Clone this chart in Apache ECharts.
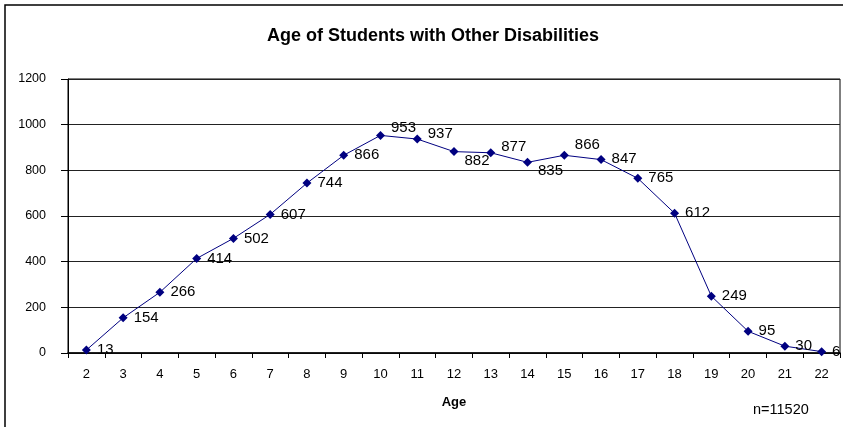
<!DOCTYPE html>
<html>
<head>
<meta charset="utf-8">
<script src="https://cdn.jsdelivr.net/npm/echarts@6/dist/echarts.min.js"></script>
<style>
  html, body { margin: 0; padding: 0; background: #fff; }
  #chart { width: 843px; height: 427px; }
</style>
</head>
<body>
<div id="chart"></div>
<script>
const ages = ['2', '3', '4', '5', '6', '7', '8', '9', '10', '11', '12', '13', '14', '15', '16', '17', '18', '19', '20', '21', '22'];
const students = [13, 154, 266, 414, 502, 607, 744, 866, 953, 937, 882, 877, 835, 866, 847, 765, 612, 249, 95, 30, 6];
const yTicks = [0, 200, 400, 600, 800, 1000, 1200];

// nudge a few labels up/down like the original so they don't sit on the line
const labelShift = {8: -8, 9: -5, 10: 9, 11: -6, 12: 9, 13: -10, 14: -1};

const font = 'Liberation Sans, Arial, sans-serif';

const chart = echarts.init(document.getElementById('chart'));

chart.setOption({
  animation: false,
  title: {
    text: 'Age of Students with Other Disabilities',
    left: 262,
    top: 22,
    textStyle: {fontFamily: font, fontSize: 18, fontWeight: 'bold', color: '#000'}
  },
  grid: {
    left: 68,
    right: 3,
    top: 79,
    bottom: 74,
    show: true,
    borderColor: '#000',
    borderWidth: 1
  },
  xAxis: {
    type: 'category',
    data: ages,
    name: 'Age',
    nameLocation: 'middle',
    nameGap: 43,
    nameTextStyle: {fontFamily: font, fontSize: 13, fontWeight: 'bold', color: '#000'},
    axisLine: {lineStyle: {color: '#000', width: 1.5}},
    axisTick: {show: true, length: 5, lineStyle: {color: '#000'}},
    axisLabel: {fontFamily: font, fontSize: 13, color: '#000', margin: 15}
  },
  yAxis: {
    type: 'value',
    min: yTicks[0],
    max: yTicks[yTicks.length - 1],
    interval: 200,
    axisLine: {show: true, lineStyle: {color: '#000'}},
    axisTick: {show: true, length: 7, lineStyle: {color: '#000'}},
    axisLabel: {fontFamily: font, fontSize: 12.5, color: '#000', margin: 22, formatter: v => String(v)},
    splitLine: {lineStyle: {color: '#222', width: 1}}
  },
  series: [{
    type: 'line',
    data: students.map((v, i) => ({
      value: v,
      label: labelShift[i] !== undefined ? {offset: [0, labelShift[i]]} : undefined
    })),
    symbol: 'diamond',
    symbolSize: 9,
    lineStyle: {color: '#000080', width: 1},
    itemStyle: {color: '#000080'},
    label: {
      show: true,
      position: 'right',
      distance: 6,
      fontFamily: font,
      fontSize: 15,
      color: '#000'
    }
  }],
  graphic: [
    {
      type: 'rect',
      shape: {x: 5, y: 5, width: 900, height: 500},
      style: {fill: null, stroke: '#000', lineWidth: 1.5},
      silent: true
    },
    {
      type: 'text',
      left: 753,
      top: 402,
      style: {text: 'n=11520', fontFamily: font, fontSize: 14.5, fill: '#000'}
    }
  ]
});
</script>
</body>
</html>
